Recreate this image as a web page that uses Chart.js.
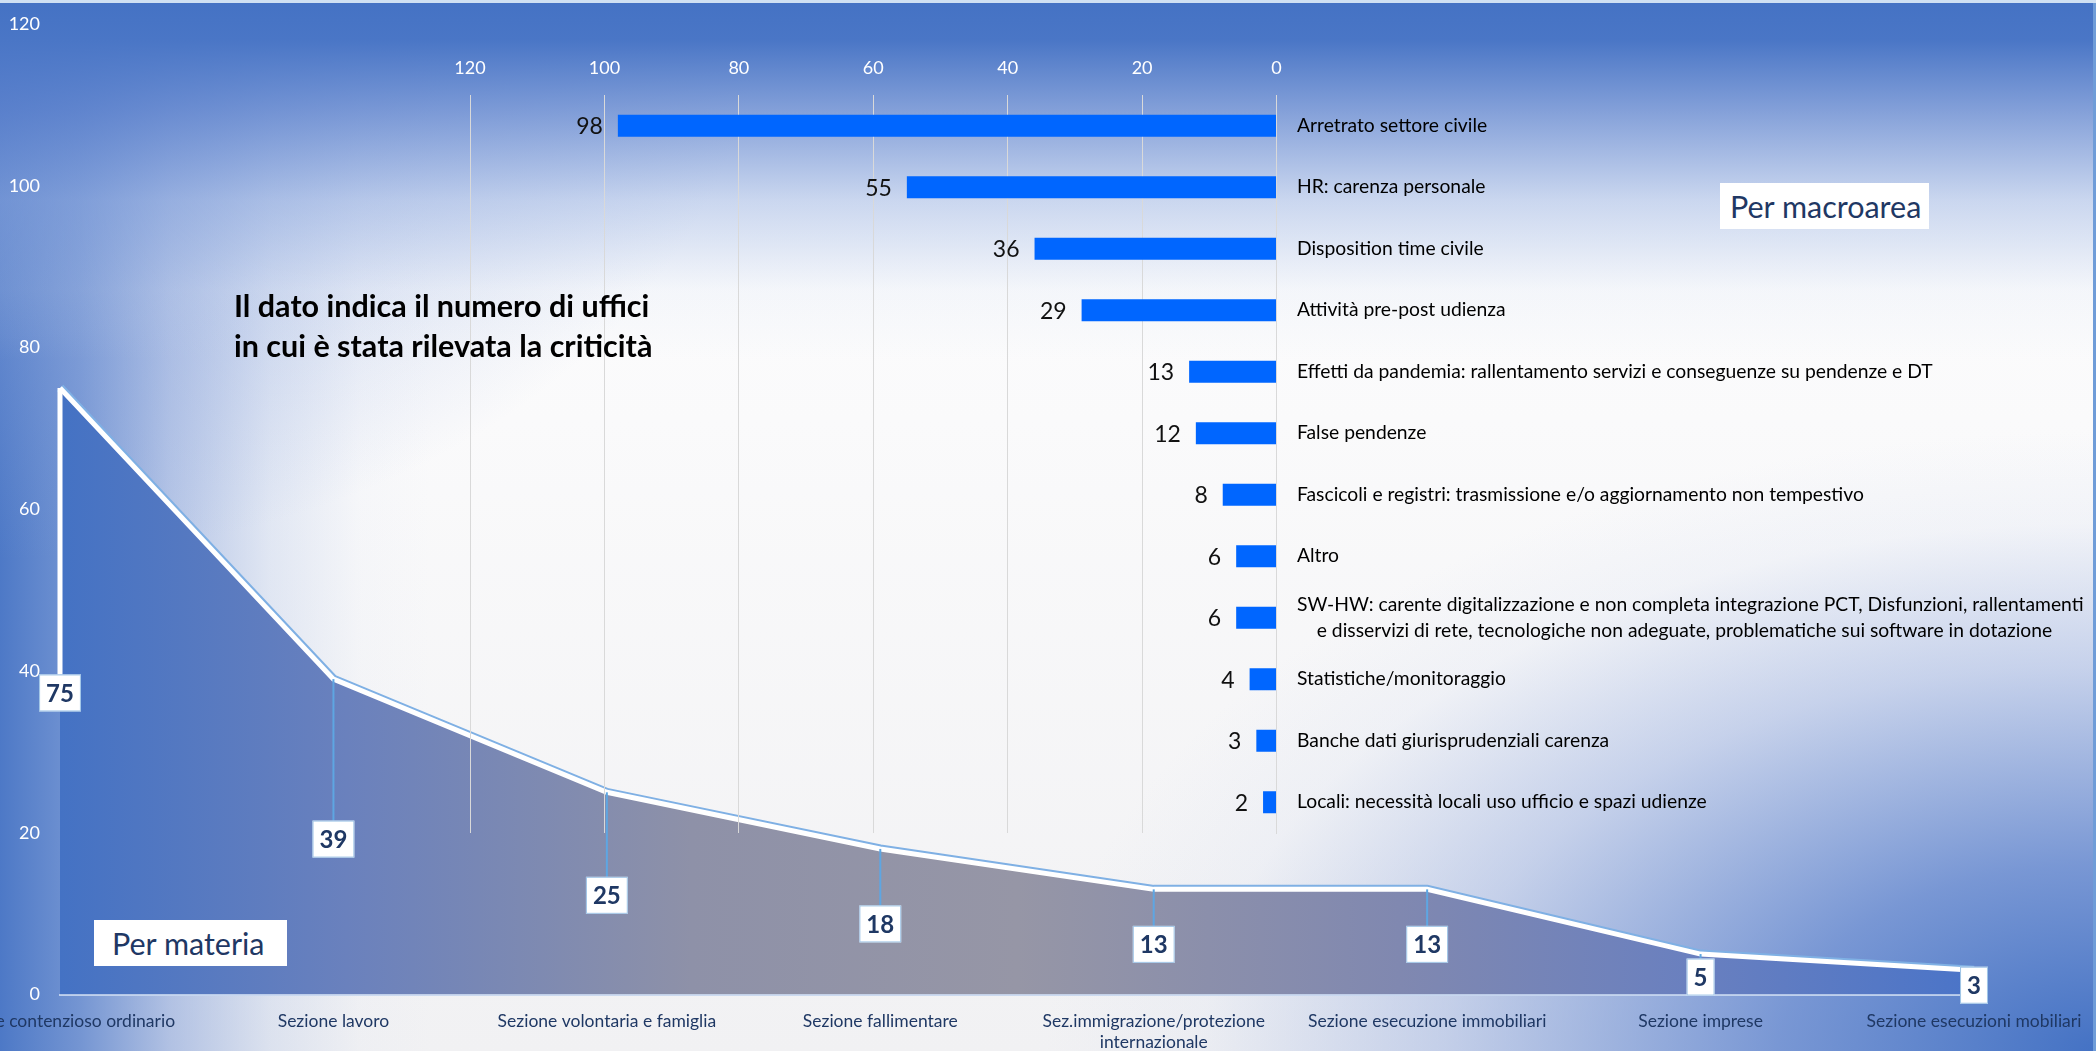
<!DOCTYPE html>
<html lang="it">
<head>
<meta charset="utf-8">
<title>Criticità rilevate negli uffici</title>
<script src="https://cdn.jsdelivr.net/npm/chart.js@4.4.1/dist/chart.umd.min.js"></script>
<style>
  html, body { margin: 0; padding: 0; width: 2096px; height: 1051px; overflow: hidden; }
  body {
    position: relative;
    font-family: Lato, "Open Sans", sans-serif;
    background:
      linear-gradient(180deg, #4472c4 0px, #4a76c6 40px, rgba(90,128,204,0.75) 110px, rgba(140,168,222,0.45) 200px, rgba(200,214,238,0.15) 290px, rgba(255,255,255,0) 360px),
      radial-gradient(ellipse 760px 560px at 0px 0px, rgba(90,128,204,0.55) 0%, rgba(140,165,220,0.3) 60%, rgba(255,255,255,0) 100%),
      linear-gradient(90deg, rgba(68,114,196,0.95) 0px, rgba(85,126,202,0.8) 80px, rgba(125,154,214,0.55) 170px, rgba(170,190,228,0.3) 270px, rgba(215,224,242,0.1) 360px, rgba(255,255,255,0) 430px),
      radial-gradient(ellipse 1050px 620px at 2096px 1051px, rgba(68,114,196,1) 0%, rgba(90,128,204,0.8) 30%, rgba(140,165,220,0.45) 62%, rgba(200,212,238,0.15) 85%, rgba(255,255,255,0) 100%),
      linear-gradient(180deg, #ffffff 0%, #fafafb 40%, #f1f1f3 100%);
    box-shadow: inset 0 3px 0 #cfe0f3, inset -3px 0 0 #6f9cd8;
  }
  canvas { position: absolute; left: 0; top: 0; }
  .nota {
    position: absolute; left: 234px; top: 285px;
    font-weight: bold; font-size: 30.5px; line-height: 40px; color: #000;
  }
  .etichetta {
    position: absolute; background: #fff; color: #1f3864;
    font-size: 30.5px; line-height: 46px; height: 46px; box-sizing: border-box;
  }
</style>
</head>
<body>
<canvas id="materia" width="2096" height="1051"></canvas>
<canvas id="macro" width="2096" height="1051"></canvas>
<div class="nota">Il dato indica il numero di uffici<br>in cui è stata rilevata la criticità</div>
<div class="etichetta" style="left:1720px; top:183px; width:209px; padding-left:10px;">Per macroarea</div>
<div class="etichetta" style="left:94px; top:920px; width:193px; padding-left:18px;">Per materia</div>

<script>
// uffici con criticità, per materia
const materie = [
  'Sezione contenzioso ordinario',
  'Sezione lavoro',
  'Sezione volontaria e famiglia',
  'Sezione fallimentare',
  ['Sez.immigrazione/protezione', 'internazionale'],
  'Sezione esecuzione immobiliari',
  'Sezione imprese',
  'Sezione esecuzioni mobiliari'
];
const ufficiMateria = [75, 39, 25, 18, 13, 13, 5, 3];

// uffici con criticità, per macroarea
const macroaree = [
  'Arretrato settore civile',
  'HR: carenza personale',
  'Disposition time civile',
  'Attività pre-post udienza',
  'Effetti da pandemia: rallentamento servizi e conseguenze su pendenze e DT',
  'False pendenze',
  'Fascicoli e registri: trasmissione e/o aggiornamento non tempestivo',
  'Altro',
  ['SW-HW: carente digitalizzazione e non completa integrazione PCT, Disfunzioni, rallentamenti',
   '\u00a0\u00a0\u00a0\u00a0e disservizi di rete, tecnologiche non adeguate, problematiche sui software in dotazione'],
  'Statistiche/monitoraggio',
  'Banche dati giurisprudenziali carenza',
  'Locali: necessità locali uso ufficio e spazi udienze'
];
const ufficiMacroarea = [98, 55, 36, 29, 13, 12, 8, 6, 6, 4, 3, 2];

// scale of both value axes
const scalaMin = 0;
const scalaMax = 120;
const scalaPasso = 20;

// how far below each point its callout box sits (px)
const calloutDrop = [305, 160, 103, 75, 55, 55, 23, 15];

const navy = '#1f3864';

// white boxes with the values, hung under the points by a leader line
const callouts = {
  id: 'callouts',
  afterDatasetsDraw(chart, args, opts) {
    const ctx = chart.ctx;
    const values = chart.data.datasets[1].data;
    const meta = chart.getDatasetMeta(1);
    ctx.save();
    ctx.font = 'bold 24px Lato';
    ctx.textAlign = 'center';
    ctx.textBaseline = 'middle';
    meta.data.forEach((pt, i) => {
      const text = String(values[i]);
      const w = ctx.measureText(text).width + 14;
      const h = 37;
      const cy = pt.y + opts.drop[i];
      if (opts.drop[i] > h / 2) {
        ctx.strokeStyle = i === 0 ? '#ffffff' : '#5ea6e2';
        ctx.lineWidth = i === 0 ? 5 : 2;
        ctx.beginPath();
        ctx.moveTo(pt.x, pt.y);
        ctx.lineTo(pt.x, cy - h / 2);
        ctx.stroke();
      }
      ctx.fillStyle = '#ffffff';
      ctx.fillRect(pt.x - w / 2, cy - h / 2, w, h);
      ctx.strokeStyle = '#9dc3e6';
      ctx.lineWidth = 1;
      ctx.strokeRect(pt.x - w / 2 + 0.5, cy - h / 2 + 0.5, w - 1, h - 1);
      ctx.fillStyle = navy;
      ctx.fillText(text, pt.x, cy + 1);
    });
    ctx.restore();
  }
};

function areaFill(context) {
  const { ctx, chartArea } = context.chart;
  if (!chartArea) return '#8a90aa';
  const g = ctx.createLinearGradient(chartArea.left, 0, chartArea.right, 0);
  g.addColorStop(0, '#4472c4');
  g.addColorStop(0.15, '#6a81bd');
  g.addColorStop(0.33, '#8e91a8');
  g.addColorStop(0.5, '#9696a6');
  g.addColorStop(0.7, '#8088b0');
  g.addColorStop(0.85, '#6a80bf');
  g.addColorStop(1, '#4a74c8');
  return g;
}

new Chart(document.getElementById('materia'), {
  type: 'line',
  data: {
    labels: materie,
    datasets: [
      {
        // thin blue edge along the top of the white line
        data: ufficiMateria,
        borderColor: '#7fb0e4',
        borderWidth: 9,
        pointRadius: 0,
        fill: false,
        order: 2
      },
      {
        data: ufficiMateria,
        fill: 'origin',
        backgroundColor: areaFill,
        borderColor: '#ffffff',
        borderWidth: 5,
        pointRadius: 0,
        order: 1
      }
    ]
  },
  options: {
    responsive: false,
    animation: false,
    layout: { padding: { top: 24, right: 122 } },
    scales: {
      x: {
        offset: false,
        z: 1,
        grid: { display: false },
        border: { display: true, color: 'rgba(200,215,240,0.9)', width: 2, dash: [2, 2] },
        ticks: { color: navy, font: { family: 'Lato', size: 17.5 }, padding: 8, maxRotation: 0, autoSkip: false },
        afterFit(s) { s.height = 56.5; s.paddingLeft = 0; s.paddingRight = 0; }
      },
      y: {
        min: scalaMin,
        max: scalaMax,
        ticks: { stepSize: scalaPasso, color: '#ffffff', padding: 12, font: { family: 'Lato', size: 18 } },
        grid: { display: false },
        border: { display: false },
        afterFit(s) { s.width = 60; }
      }
    },
    plugins: {
      legend: { display: false },
      tooltip: { enabled: false },
      callouts: { drop: calloutDrop }
    }
  },
  plugins: [callouts]
});

// value written just past the end of each bar
const barValues = {
  id: 'barValues',
  afterDatasetsDraw(chart) {
    const ctx = chart.ctx;
    const values = chart.data.datasets[0].data;
    ctx.save();
    ctx.font = '23px Lato';
    ctx.fillStyle = '#111111';
    ctx.textAlign = 'right';
    ctx.textBaseline = 'middle';
    chart.getDatasetMeta(0).data.forEach((bar, i) => {
      ctx.fillText(String(values[i]), bar.x - 15, bar.y + 1);
    });
    ctx.restore();
  }
};

new Chart(document.getElementById('macro'), {
  type: 'bar',
  data: {
    labels: macroaree,
    datasets: [{
      data: ufficiMacroarea,
      backgroundColor: '#0066ff',
      categoryPercentage: 0.4,
      barPercentage: 0.9
    }]
  },
  options: {
    indexAxis: 'y',
    responsive: false,
    animation: false,
    layout: { padding: { left: 470, top: 40, bottom: 218 } },
    scales: {
      x: {
        position: 'top',
        reverse: true,
        min: scalaMin,
        max: scalaMax,
        ticks: { stepSize: scalaPasso, color: '#ffffff', padding: 16, font: { family: 'Lato', size: 18 } },
        grid: { color: '#d9d9d9', drawTicks: false },
        border: { display: false },
        afterFit(s) { s.height = 55; }
      },
      y: {
        position: 'right',
        ticks: { color: '#000000', padding: 12.5, font: { family: 'Lato', size: 19.3, lineHeight: 1.32 }, autoSkip: false },
        grid: { display: false },
        border: { color: '#d9d9d9' },
        afterFit(s) { s.width = 819.5; }
      }
    },
    plugins: {
      legend: { display: false },
      tooltip: { enabled: false }
    }
  },
  plugins: [barValues]
});
</script>
</body>
</html>
